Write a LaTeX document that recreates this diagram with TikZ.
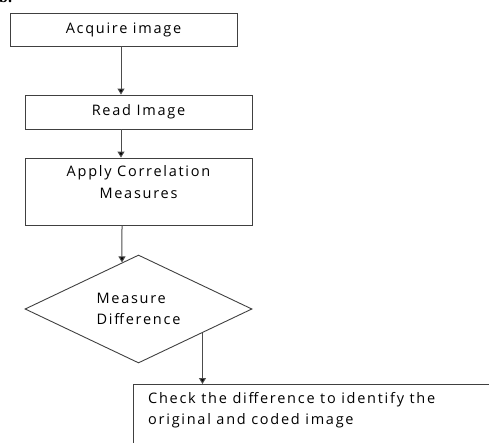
\documentclass[tikz,border=0pt]{standalone}
\usepackage{fontspec}
\setmainfont{Open Sans}[LetterSpace=12]
\newfontfamily\capfont{Liberation Serif}
\usetikzlibrary{shapes.geometric,calc,arrows.meta}
\tikzset{
  box/.style={draw=black!75, line width=0.9pt, rectangle, inner sep=0pt, anchor=center},
  arr/.style={draw=black!70, line width=1pt, -{Triangle[width=7pt,length=6pt,fill=black]}},
  txt/.style={font=\fontsize{14.5}{21.5}\selectfont, inner sep=0pt},
}
\begin{document}
\begin{tikzpicture}[x=1pt,y=-1pt]
\useasboundingbox (0,0) rectangle (489,443);
\clip (0,0) rectangle (489,443);
\node[anchor=base west, inner sep=0pt, font=\capfont\bfseries\fontsize{16}{16}\selectfont] (cap) at (-1,2.5) {b.};
\node[box, minimum width=227, minimum height=33, txt] (a) at (123.5,29.5) {Acquire image};
\node[box, minimum width=227, minimum height=34, txt] (b) at (138.5,112) {Read Image};
\node[box, minimum width=227, minimum height=67] (c) at (138.5,191.5) {};
\node[txt, align=center, anchor=north] (ct) at ([yshift=-8]c.north) {Apply Correlation\\Measures};
\node[draw=black!75, line width=0.9pt, shape=diamond, aspect=2.1, minimum width=227, minimum height=108, inner sep=0pt, txt, align=left] (d) at (138.5,309) {Measure\\Difference};
\node[box, anchor=north west, minimum width=400, minimum height=100] (e) at (133,384) {};
\node[txt, align=left, anchor=north west] (et) at (148,392) {Check the difference to identify the\\original and coded image};
\coordinate (a1) at ([xshift=-2.5]a.south);
\draw[arr] (a1) -- (a1 |- b.north);
\coordinate (b1) at ([xshift=-17.5]b.south);
\draw[arr] (b1) -- (b1 |- c.north);
\coordinate (c1) at ([xshift=-16.5]c.south);
\draw[arr] (c1) -- ($(d.west)!0.855!(d.north)$);
\coordinate (d1) at ($(d.east)!0.4386!(d.south)$);
\draw[arr] (d1) -- (d1 |- e.north);
\end{tikzpicture}
\end{document}
